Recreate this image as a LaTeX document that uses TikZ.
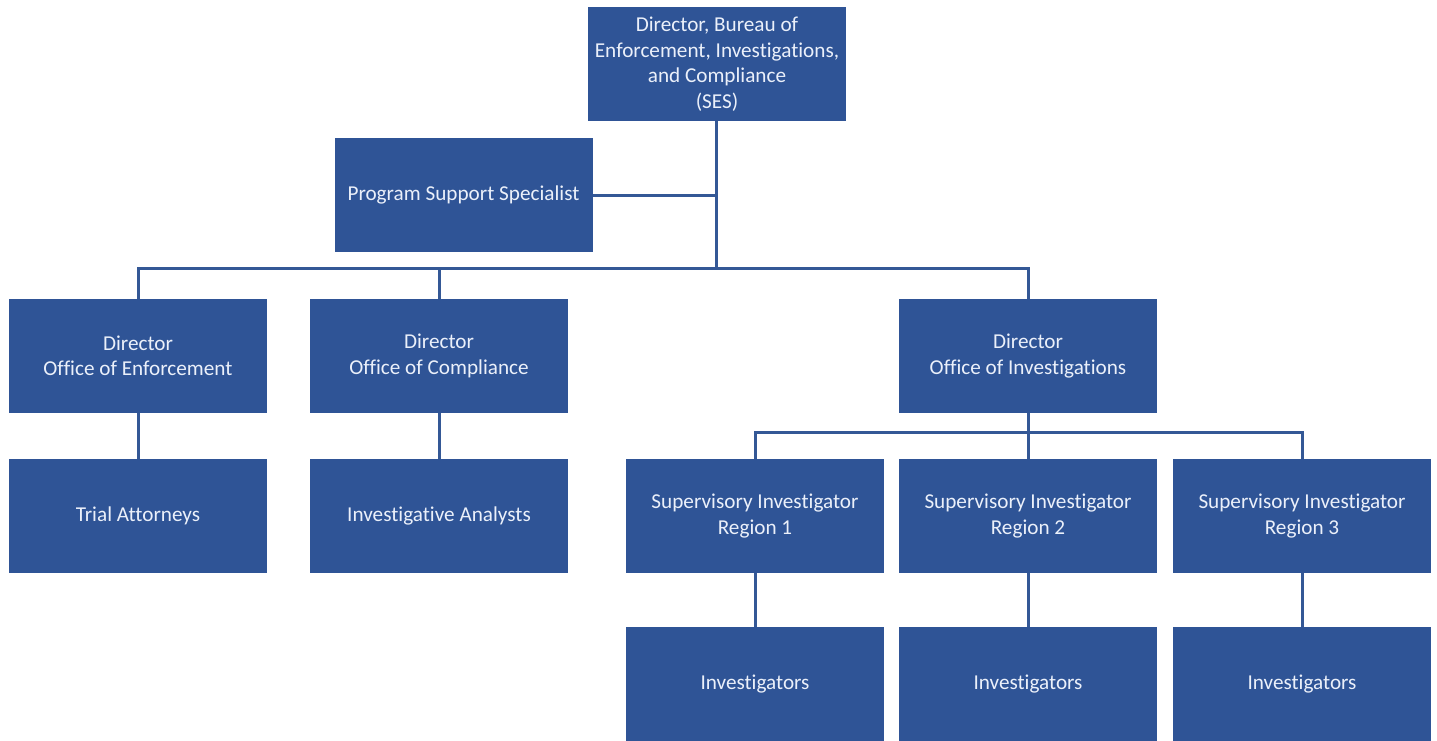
\documentclass[tikz,border=0pt]{standalone}
\usepackage{fontspec}
\setmainfont[Ligatures={NoCommon}]{Carlito}
\definecolor{boxblue}{RGB}{47,84,150}
\definecolor{lineblue}{RGB}{52,88,150}
\definecolor{txt}{RGB}{235,240,250}
\begin{document}
\begin{tikzpicture}[x=1pt,y=-1pt,
  box/.style={fill=boxblue,draw=none,minimum width=258pt,minimum height=114pt,inner sep=0pt,
    text=txt,align=center,font=\fontsize{21.2}{25.5}\selectfont},
  conn/.style={draw=lineblue,line width=3pt}]
\useasboundingbox[fill=white] (0,0) rectangle (1437,741);
\node[box] (top) at (717,64) {Director, Bureau of\\Enforcement, Investigations,\\and Compliance\\(SES)};
\node[box] (pss) at (463.5,195) {Program Support Specialist};
\node[box] (oe) at (138,356) {Director\\Office of Enforcement};
\node[box] (oc) at (439,356) {Director\\Office of Compliance};
\node[box] (oi) at (1028,356) {Director\\Office of Investigations};
\node[box] (ta) at (138,516) {Trial Attorneys};
\node[box] (ia) at (439,516) {Investigative Analysts};
\node[box] (r1) at (755,516) {Supervisory Investigator\\Region 1};
\node[box] (r2) at (1028,516) {Supervisory Investigator\\Region 2};
\node[box] (r3) at (1302,516) {Supervisory Investigator\\Region 3};
\node[box] (i1) at (755,684) {Investigators};
\node[box] (i2) at (1028,684) {Investigators};
\node[box] (i3) at (1302,684) {Investigators};
\coordinate (bus) at (716,268);
\coordinate (ibus) at (1028,432);
\draw[conn] (top.south -| bus) -- (bus);
\draw[conn] (pss.east) -- (pss.east -| bus);
\draw[conn] (oe.north) |- (bus) -| (oi.north);
\draw[conn] (oc.north) -- (oc.north |- bus);
\draw[conn] (oe.south) -- (ta.north);
\draw[conn] (oc.south) -- (ia.north);
\draw[conn] (oi.south) -- (ibus);
\draw[conn] (r1.north) |- (ibus) -| (r3.north);
\draw[conn] (r2.north) -- (ibus);
\draw[conn] (r1.south) -- (i1.north);
\draw[conn] (r2.south) -- (i2.north);
\draw[conn] (r3.south) -- (i3.north);
\end{tikzpicture}
\end{document}
